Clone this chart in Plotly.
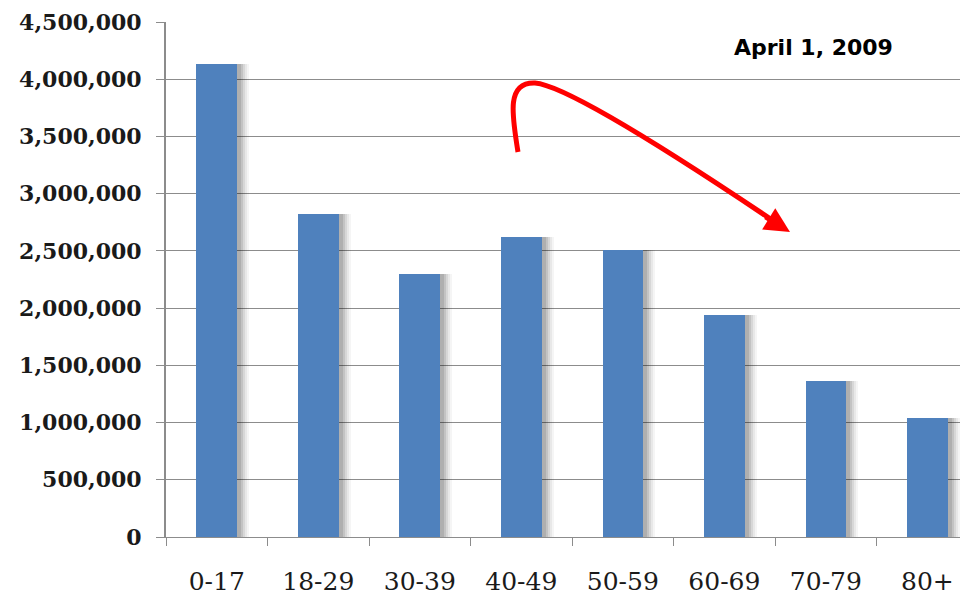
import plotly.graph_objs as go

# Data
age_groups = ['0-17', '18-29', '30-39', '40-49', '50-59', '60-69', '70-79', '80+']
population = [4130000, 2825000, 2300000, 2625000, 2510000, 1940000, 1365000, 1040000]
y_ticks = [0, 500000, 1000000, 1500000, 2000000, 2500000, 3000000, 3500000, 4000000, 4500000]

BAR_BLUE = '#4F81BD'
GRID = '#8c8c8c'
# page body has an 8px margin, so the figure is drawn 8px smaller and shifted
OFF = 8
W, H = 968 - OFF, 596 - OFF
M_L, M_R, M_T, M_B = 166 - OFF, 0, 22 - OFF, 59


def px_to_paper(x, y):
    # convert window pixels to paper coords (used for the drawn arrow only)
    x, y = x - OFF, y - OFF
    u = (x - M_L) / (W - M_L - M_R)
    v = 1 - (y - M_T) / (H - M_T - M_B)
    return u, v


# Tracers
tracerList = []
# soft shadow: a few faint grey bars shifted right
for shift, alpha in [(0.12, 0.04), (0.10, 0.05), (0.08, 0.07), (0.06, 0.09), (0.04, 0.1)]:
    tracerList.append(
        go.Bar(x=age_groups,
               y=population,
               width=0.4,
               offset=-0.2 + shift,
               marker=dict(color='rgba(0,0,0,%s)' % alpha, line=dict(width=0)),
               hoverinfo='skip',
               showlegend=False))
tracerList.append(
    go.Bar(x=age_groups,
           y=population,
           width=0.4,
           offset=-0.2,
           marker=dict(color=BAR_BLUE, line=dict(width=0)),
           showlegend=False))

fig = go.Figure(data=tracerList)

# red curved arrow
pts = [(518, 152), (512, 115), (506, 82), (535, 83), (562, 85), (650, 138), (772, 220)]
pp = [px_to_paper(*p) for p in pts]
path = 'M %f,%f C %f,%f %f,%f %f,%f C %f,%f %f,%f %f,%f' % tuple(c for p in pp for c in p)

tip = px_to_paper(790, 232)
label_pos = px_to_paper(813, 48)

fig.update_layout(
    width=W, height=H,
    margin=dict(l=M_L, r=M_R, t=M_T, b=M_B),
    paper_bgcolor='white',
    plot_bgcolor='white',
    barmode='overlay',
    bargap=0,
    showlegend=False,
    shapes=[dict(type='path', xref='paper', yref='paper', path=path,
                 line=dict(color='#ff0000', width=5), layer='above')],
    annotations=[
        dict(text='April 1, 2009', xref='paper', yref='paper',
             x=label_pos[0], y=label_pos[1],
             showarrow=False, xanchor='center', yanchor='middle',
             font=dict(family='DejaVu Sans', size=22, color='#000000', weight='bold')),
        dict(text='', xref='paper', yref='paper', x=tip[0], y=tip[1],
             ax=-26, ay=-16, showarrow=True, arrowhead=2, arrowsize=1,
             arrowwidth=5, arrowcolor='#ff0000'),
    ],
    xaxis=dict(type='category',
               range=[-0.5, 7.4],
               showgrid=False,
               showline=True, linecolor=GRID, linewidth=1,
               ticks='outside', tickson='boundaries', ticklen=8, tickcolor=GRID,
               ticklabelstandoff=22,
               tickfont=dict(family='DejaVu Serif', size=25, color='#1a1a1a')),
    yaxis=dict(range=[0, 4500000],
               tickvals=y_ticks,
               tickformat=',d',
               showgrid=True, gridcolor=GRID, gridwidth=1,
               zeroline=False,
               showline=True, linecolor=GRID, linewidth=2,
               ticks='outside', ticklen=8, tickcolor=GRID,
               ticklabelstandoff=10,
               tickfont=dict(family='DejaVu Serif', size=22, color='#1a1a1a', weight='bold')),
)

fig.write_html("out.html")
